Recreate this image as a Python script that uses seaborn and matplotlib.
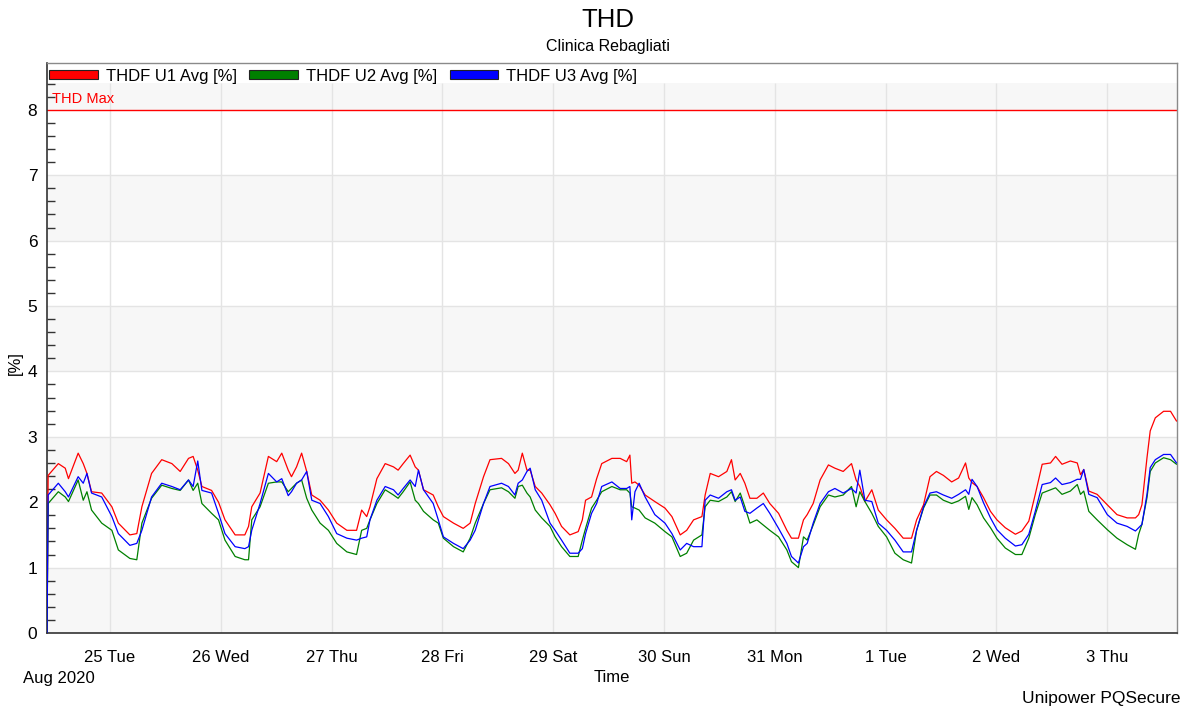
import numpy as np
import pandas as pd
import matplotlib
matplotlib.use("Agg")
import matplotlib.pyplot as plt
import matplotlib.dates as mdates
from matplotlib.patches import Patch
from matplotlib.ticker import FixedLocator, FuncFormatter
import seaborn as sns

# ---------------- data ----------------
start_date = "2020-08-24 00:00"
# hours since 2020-08-24 00:00
hours = [10.35, 10.6, 12.8, 14.3, 15.0, 17.1, 18.2, 19.0, 20.0, 22.2, 24.4, 25.8, 28.3, 29.8, 30.9,
         33.0, 35.2, 37.4, 39.2, 41.0, 42.0, 43.0, 43.9, 46.0, 47.5, 48.9, 51.1, 53.2, 54.0, 54.7,
         56.5, 58.3, 60.1,
         61.2, 62.6, 63.3, 64.4, 65.5, 66.6, 67.7, 69.5, 71.3, 73.1, 75.3, 77.4, 78.5, 79.6, 80.3,
         81.8, 83.6, 85.4, 86.4, 87.5, 89.0, 90.1, 90.8, 91.9, 94.0, 95.1, 96.2, 98.4, 100.5, 102.0,
         103.1, 104.9, 106.3, 108.8,
         110.3, 111.7, 112.4, 113.3, 114.3, 115.0, 116.1, 117.5, 119.3, 120.4, 121.8, 123.6, 125.4,
         126.3, 127.0, 128.3, 129.4, 130.5, 132.7, 134.5, 135.9, 136.6, 137.0, 137.7, 138.6, 139.9,
         142.0, 144.2, 145.7, 147.5, 148.9, 150.4, 152.2, 152.9, 154.0, 155.8, 157.6,
         158.6, 159.4, 160.5, 161.5, 162.6, 164.1, 165.5, 166.9, 168.8, 170.6, 171.6, 173.1, 174.2,
         175.0, 176.3, 177.8, 179.6, 181.0, 182.8, 184.6, 185.6, 186.4, 187.5, 189.0, 190.4, 192.2,
         194.0, 195.8, 197.6, 198.7, 200.2, 201.6, 203.0, 204.5, 206.3,
         207.8, 209.3, 210.0, 210.7, 211.8, 213.2, 214.7, 216.1, 217.9, 220.1, 221.5, 223.0, 224.4,
         225.9, 227.7, 228.8, 230.2, 232.0, 233.5, 234.2, 234.9, 236.0, 237.8, 240.0, 242.1, 244.3,
         246.1, 246.8, 247.5, 248.6, 249.3, 250.4, 252.2, 253.7, 255.0]

u1 = [0.00, 2.41, 2.59, 2.52, 2.36, 2.75, 2.59, 2.44, 2.16, 2.14, 1.93, 1.68, 1.50, 1.52, 1.93,
      2.44, 2.65, 2.59, 2.47, 2.67, 2.70, 2.49, 2.24, 2.18, 2.00, 1.73, 1.50, 1.50, 1.63, 1.93,
      2.14, 2.70, 2.62,
      2.75, 2.49, 2.39, 2.54, 2.75, 2.47, 2.11, 2.03, 1.88, 1.68, 1.57, 1.57, 1.88, 1.78, 1.93,
      2.36, 2.59, 2.54, 2.49, 2.59, 2.72, 2.54, 2.49, 2.19, 2.11, 1.93, 1.78, 1.68, 1.60, 1.68,
      1.98, 2.39, 2.65, 2.67,
      2.59, 2.44, 2.49, 2.75, 2.49, 2.49, 2.24, 2.14, 1.96, 1.83, 1.63, 1.50, 1.55,
      1.73, 2.03, 2.08, 2.36, 2.59, 2.67, 2.67, 2.62, 2.72, 2.29, 2.31, 2.26, 2.11,
      2.01, 1.91, 1.78, 1.50, 1.57, 1.73, 1.78, 2.11, 2.44, 2.39, 2.47,
      2.65, 2.34, 2.44, 2.29, 2.06, 2.06, 2.14, 1.98, 1.83, 1.57, 1.45, 1.45, 1.73,
      1.81, 1.98, 2.34, 2.57, 2.52, 2.47, 2.59, 2.34, 2.24, 2.01, 2.19, 1.88, 1.73,
      1.60, 1.45, 1.45, 1.73, 1.96, 2.39, 2.47, 2.41, 2.31,
      2.37, 2.60, 2.37, 2.30, 2.24, 2.07, 1.86, 1.73, 1.61, 1.51, 1.56, 1.71, 2.12,
      2.58, 2.60, 2.70, 2.58, 2.63, 2.60, 2.42, 2.50, 2.17, 2.12, 1.96, 1.81, 1.76,
      1.76, 1.81, 1.96, 2.68, 3.09, 3.29, 3.39, 3.39, 3.24]

u2 = [0.00, 1.98, 2.16, 2.08, 2.01, 2.34, 2.03, 2.16, 1.88, 1.68, 1.57, 1.27, 1.14, 1.12, 1.68,
      2.06, 2.26, 2.21, 2.18, 2.34, 2.18, 2.29, 1.98, 1.83, 1.73, 1.42, 1.17, 1.12, 1.12, 1.73,
      1.93, 2.29, 2.31,
      2.31, 2.16, 2.21, 2.29, 2.34, 2.06, 1.88, 1.68, 1.57, 1.37, 1.24, 1.20, 1.57, 1.60, 1.73,
      1.98, 2.19, 2.11, 2.06, 2.16, 2.31, 2.03, 1.98, 1.86, 1.73, 1.68, 1.45, 1.32, 1.24, 1.45,
      1.68, 1.98, 2.19, 2.22,
      2.16, 2.06, 2.24, 2.26, 2.14, 2.08, 1.88, 1.76, 1.63, 1.47, 1.32, 1.17, 1.17,
      1.42, 1.60, 1.91, 2.03, 2.16, 2.24, 2.19, 2.19, 2.14, 1.93, 1.91, 1.88, 1.76,
      1.68, 1.55, 1.47, 1.17, 1.22, 1.42, 1.50, 1.93, 2.03, 2.01, 2.08,
      2.16, 2.01, 2.14, 1.93, 1.68, 1.73, 1.65, 1.57, 1.47, 1.27, 1.09, 1.00, 1.47,
      1.42, 1.65, 1.93, 2.11, 2.08, 2.11, 2.24, 1.93, 2.16, 2.01, 1.83, 1.63, 1.47,
      1.22, 1.12, 1.07, 1.57, 1.91, 2.11, 2.11, 2.03, 1.98,
      2.02, 2.09, 1.89, 2.07, 1.96, 1.76, 1.61, 1.45, 1.30, 1.20, 1.20, 1.45, 1.81,
      2.14, 2.19, 2.22, 2.12, 2.17, 2.27, 2.12, 2.17, 1.86, 1.73, 1.58, 1.45, 1.35,
      1.28, 1.51, 1.66, 2.07, 2.47, 2.60, 2.68, 2.65, 2.58]

u3 = [0.00, 2.11, 2.29, 2.16, 2.08, 2.39, 2.29, 2.44, 2.14, 2.08, 1.78, 1.52, 1.34, 1.37, 1.57,
      2.08, 2.29, 2.24, 2.19, 2.34, 2.24, 2.63, 2.18, 2.14, 1.83, 1.52, 1.32, 1.29, 1.32, 1.57,
      1.98, 2.44, 2.31,
      2.36, 2.10, 2.16, 2.29, 2.34, 2.47, 2.03, 1.98, 1.78, 1.52, 1.45, 1.42, 1.45, 1.47, 1.73,
      2.03, 2.24, 2.19, 2.11, 2.21, 2.34, 2.24, 2.49, 2.19, 1.98, 1.73, 1.47, 1.37, 1.29, 1.42,
      1.57, 1.98, 2.24, 2.29,
      2.24, 2.11, 2.29, 2.34, 2.47, 2.52, 2.19, 2.03, 1.68, 1.57, 1.42, 1.22, 1.22,
      1.29, 1.52, 1.83, 1.98, 2.24, 2.31, 2.21, 2.21, 2.24, 1.73, 2.16, 2.29, 2.08,
      1.81, 1.68, 1.52, 1.27, 1.37, 1.32, 1.32, 2.03, 2.11, 2.06, 2.16,
      2.19, 2.03, 2.08, 1.86, 1.83, 1.91, 1.98, 1.83, 1.60, 1.37, 1.17, 1.07, 1.32,
      1.37, 1.68, 1.98, 2.16, 2.21, 2.14, 2.21, 2.14, 2.49, 2.03, 2.01, 1.68, 1.57,
      1.42, 1.24, 1.24, 1.57, 1.93, 2.14, 2.16, 2.11, 2.06,
      2.12, 2.19, 2.12, 2.35, 2.24, 1.99, 1.76, 1.58, 1.45, 1.33, 1.35, 1.51, 1.86,
      2.27, 2.30, 2.37, 2.27, 2.30, 2.35, 2.35, 2.50, 2.12, 2.07, 1.81, 1.68, 1.63,
      1.56, 1.61, 1.66, 2.12, 2.53, 2.65, 2.73, 2.73, 2.60]

series_names = ["THDF U1 Avg [%]", "THDF U2 Avg [%]", "THDF U3 Avg [%]"]
series_colors = ["#ff0000", "#008000", "#0000ff"]
thd_max = 8.0
thd_max_label = "THD Max"
y_ticks = [0, 1, 2, 3, 4, 5, 6, 7, 8]
title = "THD"
subtitle = "Clinica Rebagliati"

# ---------------- build frame ----------------
t0 = pd.Timestamp(start_date)
times = t0 + pd.to_timedelta(hours, unit="h")
frames = []
for name, vals in zip(series_names, [u1, u2, u3]):
    frames.append(pd.DataFrame({"Time": times, "value": vals, "series": name}))
df = pd.concat(frames, ignore_index=True)

# ---------------- style ----------------
sns.set_style("white")
plt.rcParams["font.family"] = ["Liberation Sans", "DejaVu Sans"]
plt.rcParams["text.color"] = "black"
plt.rcParams["xtick.labelcolor"] = "black"
plt.rcParams["ytick.labelcolor"] = "black"

W, H = 1189, 713
fig = plt.figure(figsize=(W / 100, H / 100), dpi=100)
ax_left, ax_right, ax_bottom, ax_top = 47, 1177, 633, 63
ax = fig.add_axes([ax_left / W, 1 - ax_bottom / H, (ax_right - ax_left) / W, (ax_bottom - ax_top) / H])

ytop = (ax_bottom - ax_top) / 65.4
yband = 8.41
x0 = t0 + pd.Timedelta(hours=10.35)
x1 = t0 + pd.Timedelta(hours=255.1)
ax.set_xlim(x0, x1)
ax.set_ylim(0, ytop)

# alternating bands
for lo in [0, 2, 4, 6, 8]:
    ax.axhspan(lo, min(lo + 1, yband), color="#f7f7f7", zorder=0, lw=0)
# horizontal grid
for yv in range(1, 8):
    ax.axhline(yv, color="#e4e4e4", lw=1, zorder=0.5)
# vertical grid at midnights
days = pd.date_range("2020-08-25", "2020-09-03", freq="D")
ax.vlines(days, 0, yband, color="#e4e4e4", lw=1, zorder=0.5)

sns.lineplot(data=df, x="Time", y="value", hue="series", hue_order=series_names,
             palette=dict(zip(series_names, series_colors)), lw=0.9, legend=False,
             estimator=None, sort=False, ax=ax, zorder=3)

# THD max line
ax.axhline(thd_max, color="#ff0000", lw=1, zorder=2)
ax.text(0.004, thd_max + 0.06, thd_max_label, transform=ax.get_yaxis_transform(),
        color="#ff0000", fontsize=10.5, ha="left", va="bottom")

# axes ticks
ax.set_yticks(y_ticks)
ax.yaxis.set_minor_locator(FixedLocator([v / 5 for v in range(0, 43) if v % 5 != 0]))
ax.tick_params(axis="y", which="major", direction="out", length=5, width=1, labelsize=12.5, pad=2, color="#333333")
ax.tick_params(axis="y", which="minor", direction="in", length=6, width=1, color="#333333", left=True)
ax.set_xticks(days)
ax.xaxis.set_major_formatter(FuncFormatter(lambda v, p: f"{mdates.num2date(v).day} {mdates.num2date(v).strftime('%a')}"))
ax.tick_params(axis="x", which="major", direction="out", length=9, width=1, labelsize=12, pad=3, color="#555555")
ax.set_xlabel("")
ax.set_ylabel("")

for s in ["left", "bottom"]:
    ax.spines[s].set_color("#333333")
    ax.spines[s].set_linewidth(1.2)
for s in ["top", "right"]:
    ax.spines[s].set_color("#8a8a8a")
    ax.spines[s].set_linewidth(1)

# legend
handles = [Patch(facecolor=c, edgecolor="#222222", lw=0.8) for c in series_colors]
ax.legend(handles, series_names, loc="center left", bbox_to_anchor=(0.002, (ax_bottom - 76) / (ax_bottom - ax_top)),
          ncol=3, frameon=False, fontsize=12, handlelength=2.9, handleheight=0.5,
          handletextpad=0.5, columnspacing=0.75, borderaxespad=0, borderpad=0)

# texts
fig.text(608 / W, 1 - 20 / H, title, ha="center", va="center", fontsize=18.5)
fig.text(608 / W, 1 - 47 / H, subtitle, ha="center", va="center", fontsize=11.5)
fig.text(15 / W, 1 - 363 / H, "[%]", ha="center", va="center", rotation=90, fontsize=12)
fig.text(23 / W, 1 - 678 / H, "Aug 2020", ha="left", va="center", fontsize=12)
fig.text(612 / W, 1 - 678 / H, "Time", ha="center", va="center", fontsize=12)
fig.text(1180 / W, 1 - 698 / H, "Unipower PQSecure", ha="right", va="center", fontsize=12.5)

fig.savefig("out.png", dpi=100)
